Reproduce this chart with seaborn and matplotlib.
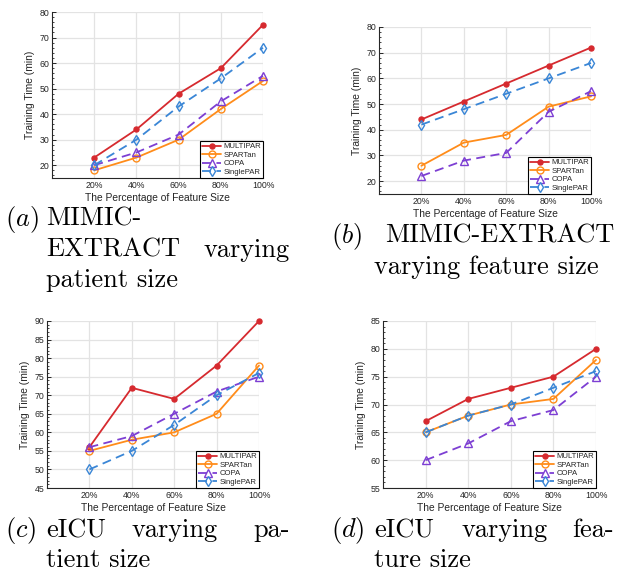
import numpy as np
import pandas as pd
import matplotlib
matplotlib.use("Agg")
import matplotlib.pyplot as plt
from matplotlib.ticker import AutoMinorLocator, MultipleLocator
import seaborn as sns

# data (training time in minutes)
pct = [20, 40, 60, 80, 100]
pct_labels = ["20%", "40%", "60%", "80%", "100%"]
methods = ["MULTIPAR", "SPARTan", "COPA", "SinglePAR"]

a_multipar = [23, 34, 48, 58, 75]
a_spartan = [18, 23, 30, 42, 53]
a_copa = [20, 25, 32, 45, 55]
a_singlepar = [20, 30, 43, 54, 66]

b_multipar = [44, 51, 58, 65, 72]
b_spartan = [26, 35, 38, 49, 53]
b_copa = [22, 28, 31, 47, 55]
b_singlepar = [42, 48, 54, 60, 66]

c_multipar = [56, 72, 69, 78, 90]
c_spartan = [55, 58, 60, 65, 78]
c_copa = [56, 59, 65, 71, 75]
c_singlepar = [50, 55, 62, 70, 76]

d_multipar = [67, 71, 73, 75, 80]
d_spartan = [65, 68, 70, 71, 78]
d_copa = [60, 63, 67, 69, 75]
d_singlepar = [65, 68, 70, 73, 76]

panels = [
    ([a_multipar, a_spartan, a_copa, a_singlepar], (15, 80), 10),
    ([b_multipar, b_spartan, b_copa, b_singlepar], (15, 80), 10),
    ([c_multipar, c_spartan, c_copa, c_singlepar], (45, 90), 5),
    ([d_multipar, d_spartan, d_copa, d_singlepar], (55, 85), 5),
]

# styles per method
colors = {"MULTIPAR": "#D62A2F", "SPARTan": "#FF8C1A", "COPA": "#7D3FD3", "SinglePAR": "#3A86D6"}
markers = {"MULTIPAR": "o", "SPARTan": "o", "COPA": "^", "SinglePAR": "d"}
msizes = {"MULTIPAR": 3.6, "SPARTan": 5, "COPA": 5.2, "SinglePAR": 5.2}
lstyles = {"MULTIPAR": "-", "SPARTan": "-", "COPA": (0, (5, 3)), "SinglePAR": (0, (5, 3))}

sns.set_style("whitegrid")
plt.rcParams["font.family"] = ["Liberation Sans", "DejaVu Sans"]
plt.rcParams["mathtext.fontset"] = "cm"

W, H = 620, 579
fig = plt.figure(figsize=(W / 100, H / 100), dpi=100)

# axes boxes in pixels: left, top, right, bottom
boxes = [(52, 12, 263, 178), (379, 27, 591, 194), (47, 321, 259, 488), (383, 321, 596, 488)]

tick_col = "#262626"
for (series, ylim, ystep), (l, t, r, b) in zip(panels, boxes):
    ax = fig.add_axes([l / W, 1 - b / H, (r - l) / W, (b - t) / H])
    for name, vals in zip(methods, series):
        df = pd.DataFrame({"pct": pct, "time": vals})
        face = colors[name] if name == "MULTIPAR" else "none"
        sns.lineplot(data=df, x="pct", y="time", ax=ax, color=colors[name],
                     linestyle=lstyles[name], linewidth=1.3, marker=markers[name],
                     markersize=msizes[name], markerfacecolor=face,
                     markeredgecolor=colors[name], markeredgewidth=1.0,
                     label=name, clip_on=False, zorder=3)
    ax.set_xlim(0, 100)
    ax.set_ylim(*ylim)
    ax.set_xticks(pct)
    ax.set_xticklabels(pct_labels)
    ax.yaxis.set_major_locator(MultipleLocator(ystep))
    ax.yaxis.set_minor_locator(AutoMinorLocator(5))
    ax.grid(True, which="major", color="#E3E3E3", linewidth=0.9)
    ax.grid(False, which="minor")
    for s in ["top", "right"]:
        ax.spines[s].set_visible(False)
    for s in ["left", "bottom"]:
        ax.spines[s].set_color(tick_col)
        ax.spines[s].set_linewidth(0.8)
    ax.tick_params(axis="both", labelsize=6.3, colors=tick_col, pad=2)
    ax.tick_params(axis="x", length=0)
    ax.tick_params(axis="y", which="major", direction="in", length=3, width=0.7, left=True)
    ax.tick_params(axis="y", which="minor", direction="in", length=1.6, width=0.6, left=True)
    ax.set_xlabel("The Percentage of Feature Size", fontsize=7.4, color=tick_col, labelpad=2)
    ax.set_ylabel("Training Time (min)", fontsize=7.4, color=tick_col, labelpad=3)
    leg = ax.legend(loc="lower right", fontsize=5.6, frameon=True, fancybox=False,
                    borderaxespad=0, borderpad=0.25, labelspacing=0.15,
                    handlelength=2.4, handletextpad=0.3)
    leg.get_frame().set_edgecolor("black")
    leg.get_frame().set_linewidth(0.8)
    leg.get_frame().set_alpha(1)

# captions (Computer Modern), pieces placed in pixel coordinates
cap_size = 19
captions = [
    ("($a$)", 5, 226, "left"), ("MIMIC-", 46, 226, "left"),
    ("EXTRACT", 46, 257, "left"), ("varying", 290, 257, "right"),
    ("patient size", 46, 287, "left"),
    ("($b$)", 331, 243, "left"), ("MIMIC-EXTRACT", 614, 243, "right"),
    ("varying feature size", 374, 274, "left"),
    ("($c$)", 5, 537, "left"), ("eICU", 46, 537, "left"),
    ("varying", 175, 537, "center"), ("pa-", 290, 537, "right"),
    ("tient size", 46, 567, "left"),
    ("($d$)", 331, 537, "left"), ("eICU", 374, 537, "left"),
    ("varying", 505, 537, "center"), ("fea-", 614, 537, "right"),
    ("ture size", 374, 567, "left"),
]
for txt, x, y, ha in captions:
    fig.text(x / W, 1 - y / H, txt, fontsize=cap_size, family="cmr10",
             ha=ha, va="baseline", color="black")

plt.savefig("out.png", dpi=100)
